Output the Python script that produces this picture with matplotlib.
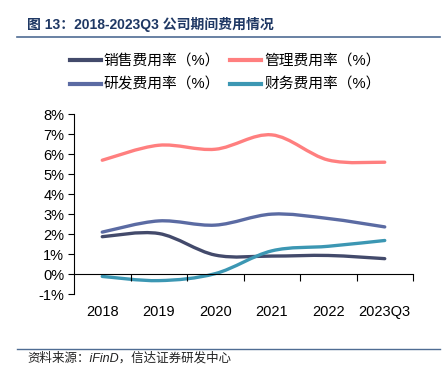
import matplotlib
matplotlib.use("Agg")
import matplotlib.pyplot as plt
import numpy as np
from matplotlib.path import Path
from matplotlib.patches import PathPatch
from matplotlib.lines import Line2D

plt.rcParams['font.family'] = ['Liberation Sans', 'Noto Sans CJK SC']

# data (%)
years = ["2018", "2019", "2020", "2021", "2022", "2023Q3"]
sales = [1.87, 2.03, 0.95, 0.90, 0.93, 0.77]
admin = [5.70, 6.45, 6.25, 6.97, 5.71, 5.60]
rnd = [2.10, 2.66, 2.45, 3.00, 2.78, 2.36]
fin = [-0.12, -0.33, 0.02, 1.16, 1.39, 1.68]

names = ["销售费用率（%）", "管理费用率（%）", "研发费用率（%）", "财务费用率（%）"]
colors = ["#434A6B", "#FF7F7F", "#5B6BA3", "#3C97B3"]


def smooth_path(xs, ys):
    # Excel-like smoothed line: Catmull-Rom segments as cubic Bezier curves
    p = np.column_stack([xs, ys]).astype(float)
    n = len(p)
    verts = [p[0]]
    codes = [Path.MOVETO]
    for i in range(n - 1):
        p0 = p[i - 1] if i > 0 else p[i]
        p3 = p[i + 2] if i + 2 < n else p[i + 1]
        c1 = p[i] + (p[i + 1] - p0) / 6
        c2 = p[i + 1] - (p3 - p[i]) / 6
        verts += [c1, c2, p[i + 1]]
        codes += [Path.CURVE4] * 3
    return Path(verts, codes)


fig = plt.figure(figsize=(4.45, 3.83), dpi=100)
W, H = 445, 383
ax = fig.add_axes([74 / W, 1 - 294 / H, (413 - 74) / W, (294 - 114.3) / H])

x = np.arange(len(years))
for vals, c in zip([sales, admin, rnd, fin], colors):
    ax.add_patch(PathPatch(smooth_path(x, vals), facecolor="none",
                           edgecolor=c, lw=2.4, capstyle="round"))

ax.set_xlim(-0.5, len(years) - 0.5)
ax.set_ylim(-1, 8)
ax.set_yticks(range(-1, 9))
ax.set_yticklabels([f"{v}%" for v in range(-1, 9)], fontsize=10.5)
ax.tick_params(axis="y", length=4, width=0.8, pad=3)

for s in ["top", "right"]:
    ax.spines[s].set_visible(False)
ax.spines["left"].set_linewidth(0.8)
ax.spines["bottom"].set_position(("data", 0))
ax.spines["bottom"].set_linewidth(0.8)
ax.set_xticks(np.arange(0.5, len(years), 1))
ax.set_xticklabels([])
ax.tick_params(axis="x", length=5, width=0.8, direction="out")

for i, y in enumerate(years):
    ax.text(i, -0.1, y, transform=ax.get_xaxis_transform(),
            ha="center", va="center", fontsize=10.5)

# legend filled row by row: matplotlib fills columns, so reorder
handles = [Line2D([], [], color=c, lw=3) for c in colors]
order = [0, 2, 1, 3]
fig.legend([handles[i] for i in order], [names[i] for i in order], ncol=2,
           loc="center", bbox_to_anchor=(225 / W, 1 - 73 / H),
           frameon=False, fontsize=10.6, handlelength=2.1, handletextpad=0.2,
           columnspacing=0.7, labelspacing=0.65, borderpad=0)

# title and source
fig.text(27 / W, 1 - 25 / H, "图 13：2018-2023Q3 公司期间费用情况", fontsize=10,
         fontweight="bold", color="#1F3864", va="center")
fig.add_artist(Line2D([17 / W, 440 / W], [1 - 37 / H] * 2, color="#4F6C93", lw=1.2))
fig.add_artist(Line2D([17 / W, 440 / W], [1 - 349 / H] * 2, color="#4F6C93", lw=1.0))
fig.text(27 / W, 1 - 358 / H, "资料来源：iFinD，信达证券研发中心", fontsize=9,
         style="italic", color="#222222", va="center")

fig.savefig("out.png", dpi=100)
